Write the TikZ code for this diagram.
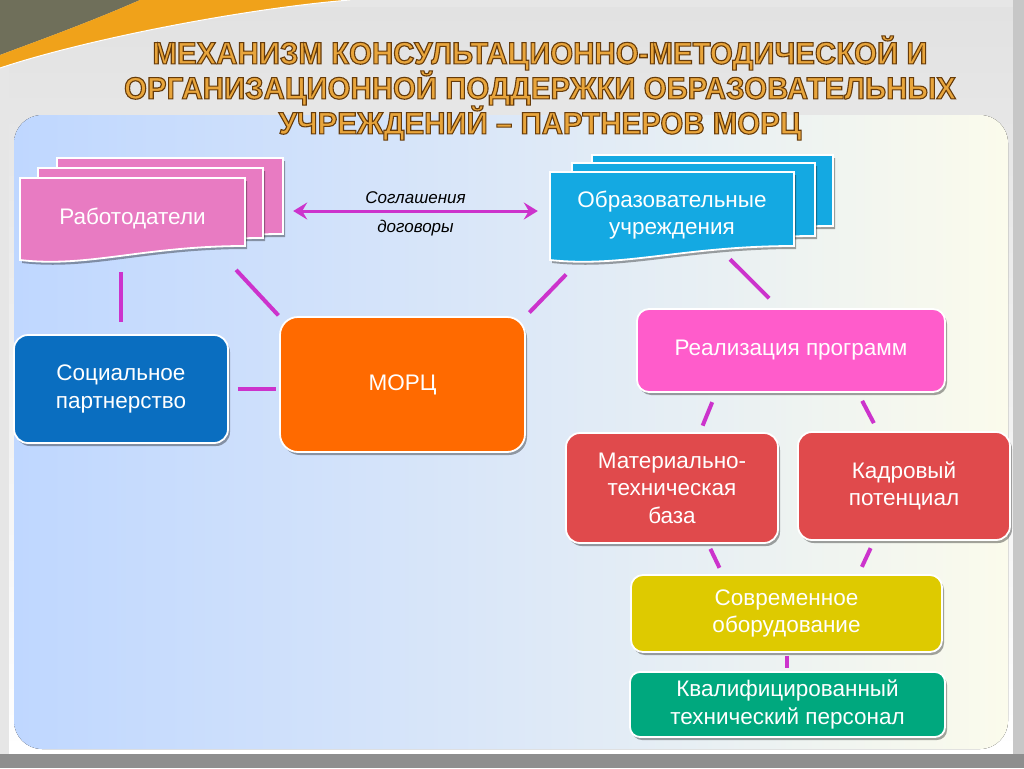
\documentclass[tikz,border=0pt]{standalone}
\usepackage{fontspec}
\setmainfont{Liberation Sans}
\newfontfamily\titlefont[FakeStretch=0.95]{Liberation Sans}
\usetikzlibrary{shadows,arrows.meta,calc}
\definecolor{cBg}{HTML}{E6E6E6}
\definecolor{cBgTop}{HTML}{E2E2E2}
\definecolor{cBottom}{HTML}{8E8E8E}
\definecolor{cOlive}{HTML}{6F6F5A}
\definecolor{cSwoosh}{HTML}{F0A21A}
\definecolor{cPanL}{HTML}{BFD7FF}
\definecolor{cPanM}{HTML}{DCE8F8}
\definecolor{cPanR}{HTML}{FBFBEC}
\definecolor{cGold}{HTML}{E8A53C}
\definecolor{cPink}{HTML}{E87BC2}
\definecolor{cCyan}{HTML}{14A9E2}
\definecolor{cBlue}{HTML}{0A6EC0}
\definecolor{cOrange}{HTML}{FF6A00}
\definecolor{cReal}{HTML}{FF5CCB}
\definecolor{cRed}{HTML}{E04A4C}
\definecolor{cYellow}{HTML}{DECA00}
\definecolor{cGreen}{HTML}{00A87E}
\definecolor{cMag}{HTML}{CC33CC}
\newcommand\outlinetext[1]{\special{pdf:literal direct 0.40 0.23 0.04 RG 2 Tr 1.1 w}#1\special{pdf:literal direct 0 Tr}}
\newcommand\docshape[5]{%
  \draw[docline, fill=#5] (#1,#2) -- (#3,#2) -- (#3,{#4-14})
    .. controls ({#1+0.55*(#3-#1)},{#4-14}) and ({#1+0.3*(#3-#1)},{#4+8}) .. (#1,#4) -- cycle;}
\begin{document}
\begin{tikzpicture}[x=1pt,y=-1pt,
  shad/.style={drop shadow={shadow xshift=2pt,shadow yshift=-3pt,opacity=.35,fill=black}},
  docline/.style={draw=white,line width=1.8pt,shad},
  box/.style={rounded corners=14pt,draw=white,line width=1.8pt,shad,text=white,align=center,
    font=\fontsize{22.5}{27.5}\selectfont,inner sep=0pt},
  doctext/.style={text=white,align=center,font=\fontsize{22.5}{27.5}\selectfont,inner sep=0pt},
  conn/.style={draw=cMag,line width=4pt},
  dblarrow/.style={draw=cMag,line width=3pt,{Stealth[length=14pt,width=17pt,inset=5pt]}-{Stealth[length=14pt,width=17pt,inset=5pt]}},
  lbl/.style={font=\fontsize{17}{20}\itshape\selectfont,text=black,inner sep=0pt},
  title/.style={text=cGold,align=center,font=\titlefont\bfseries\fontsize{31}{35}\selectfont,inner sep=0pt}]
\useasboundingbox (0,0) rectangle (1024,768);
% slide background
\fill[cBg] (0,0) rectangle (1024,768);
\fill[top color=cBgTop,bottom color=white] (9,8) rectangle (1013,753);
\fill[cBottom] (0,754) rectangle (1024,768);
\fill[black!22] (1013,0) rectangle (1024,754);
\fill[cOlive] (0,0) -- (140,0) .. controls (90,22) and (40,40) .. (0,55) -- cycle;
\fill[cSwoosh] (140,0) -- (350,0) .. controls (250,8) and (90,38) .. (0,68) -- (0,55)
  .. controls (40,40) and (90,22) .. (140,0) -- cycle;
\draw[white,line width=1pt] (350,0) .. controls (250,8) and (90,38) .. (0,68);
% panel
\fill[rounded corners=28pt,left color=cPanL,right color=cPanR,middle color=cPanM] (14,115) rectangle (1008,749);
% title
\node[title] (title) at (540,88) {\outlinetext{МЕХАНИЗМ КОНСУЛЬТАЦИОННО-МЕТОДИЧЕСКОЙ И\\ОРГАНИЗАЦИОННОЙ ПОДДЕРЖКИ ОБРАЗОВАТЕЛЬНЫХ\\УЧРЕЖДЕНИЙ – ПАРТНЕРОВ МОРЦ}};
% document stacks
\docshape{57}{158}{283}{248}{cPink}
\docshape{38}{168}{263}{252}{cPink}
\docshape{20}{178}{245}{260}{cPink}
\node[doctext,minimum width=225pt,minimum height=80pt] (rab) at (132.5,218) {Работодатели};
\docshape{592}{155}{833}{240}{cCyan}
\docshape{572}{163}{815}{250}{cCyan}
\docshape{550}{172}{794}{260}{cCyan}
\node[doctext,minimum width=244pt,minimum height=84pt] (edu) at (672,215) {Образовательные\\учреждения};
% boxes
\node[box,fill=cBlue,minimum width=214pt,minimum height=108pt] (soc) at (121,389) {Социальное\\партнерство};
\node[box,fill=cOrange,rounded corners=18pt,minimum width=245pt,minimum height=135pt] (morc) at (402.5,384.5) {МОРЦ};
\node[box,fill=cReal,rounded corners=12pt,minimum width=308pt,minimum height=83pt] (real) at (791,350.5) {Реализация программ};
\node[box,fill=cRed,minimum width=212pt,minimum height=110pt] (mat) at (672,488) {Материально-\\техническая\\база};
\node[box,fill=cRed,minimum width=212pt,minimum height=108pt] (kadr) at (904,486) {Кадровый\\потенциал};
\node[box,fill=cYellow,rounded corners=12pt,minimum width=311pt,minimum height=77pt] (sovr) at (786.5,613.5) {Современное\\оборудование};
\node[box,fill=cGreen,rounded corners=10pt,minimum width=315pt,minimum height=65pt] (kval) at (787.5,704.5) {Квалифицированный\\технический персонал};
% connectors
\draw[conn,shorten <=14pt,shorten >=12pt] (soc.north |- rab.south) -- (soc.north);
\draw[conn,shorten <=16pt,shorten >=1pt] ($(rab.south east)+(-20,0)$) -- (morc.north west);
\draw[conn,shorten <=9pt,shorten >=3pt] (soc.east) -- (soc.east -| morc.west);
\draw[conn,shorten <=24pt,shorten >=5pt] ($(edu.south west)+(33,0)$) -- (morc.north east);
\draw[conn,shorten <=3pt,shorten >=14pt] ($(edu.south)+(56,0)$) -- ($(real.north)+(-12,0)$);
\draw[conn,shorten <=10pt,shorten >=7pt] ($(real.south)+(-75,0)$) -- ($(mat.north)+(28,0)$);
\draw[conn,shorten <=9pt,shorten >=9pt] ($(real.south)+(67,0)$) -- ($(kadr.north)+(-26,0)$);
\draw[conn,shorten <=5.5pt,shorten >=7pt] ($(mat.south)+(36,0)$) -- ($(sovr.north)+(-64,0)$);
\draw[conn,shorten <=8pt,shorten >=8pt] ($(kadr.south)+(-30,0)$) -- ($(sovr.north)+(72,0)$);
\draw[conn,shorten <=3pt,shorten >=3pt] (sovr.south) -- (sovr.south |- kval.north);
% agreement arrow
\draw[dblarrow] ([xshift=48pt,yshift=7pt]rab.east) -- node[lbl,above=6pt] (agr) {Соглашения} node[lbl,below=8pt] (dog) {договоры} ([xshift=-12pt,yshift=4pt]edu.west);
\end{tikzpicture}
\end{document}
